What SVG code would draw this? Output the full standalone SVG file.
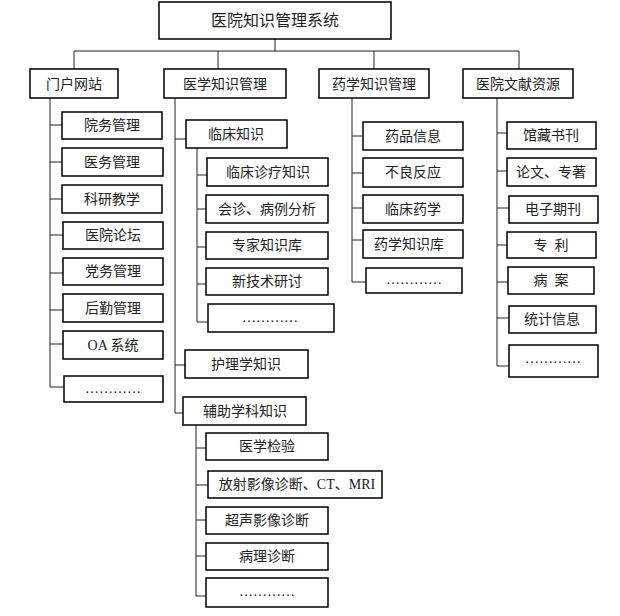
<svg xmlns="http://www.w3.org/2000/svg" width="620" height="616" viewBox="0 0 620 616">
<style>
.b{fill:#fff;stroke:#000;stroke-width:1.5}
.t{font-family:"Liberation Serif","Noto Sans CJK SC",serif;font-size:14px;fill:#222;text-anchor:middle}
.r{font-size:16px}
.c{fill:none;stroke:#222;stroke-width:1}
</style>
<rect width="620" height="616" fill="#fff"/>
<g id="connectors" class="c">
<path d="M275 39V51M74 51H519M74 51V69M218 51V69M374 51V69M519 51V69"/>
<path d="M50 98V387M50 125H62M50 162H62M50 199H62M50 235H63M50 273H63M50 310H63M50 344H63M50 387H64"/>
<path d="M175 98V413M175 139H186M175 365H185M175 413H183"/>
<path d="M197 148V322M197 175H207M197 209H206M197 247H206M197 284H206M197 322H208"/>
<path d="M196 425V596M196 448H206M196 485H208M196 520H206M196 556H206M196 596H206"/>
<path d="M352 98V282M352 136H363M352 173H363M352 208H363M352 240H363M352 282H366"/>
<path d="M497 98V366M497 133H507M497 171H507M497 208H509M497 245H507M497 282H508M497 318H509M497 366H509"/>
</g>
<g id="root"><rect class="b" x="159" y="2" width="232" height="37"/><text class="t r" x="275" y="26">医院知识管理系统</text></g>
<g id="portal"><rect class="b" x="30" y="69" width="88" height="29"/><text class="t" x="74" y="89">门户网站</text></g>
<g id="medical"><rect class="b" x="164" y="69" width="122" height="29"/><text class="t" x="225" y="89">医学知识管理</text></g>
<g id="pharma"><rect class="b" x="319" y="69" width="110" height="29"/><text class="t" x="374" y="89">药学知识管理</text></g>
<g id="literature"><rect class="b" x="463" y="69" width="110" height="29"/><text class="t" x="518" y="89">医院文献资源</text></g>

<g id="p1"><rect class="b" x="62" y="112" width="100" height="27"/><text class="t" x="112" y="130">院务管理</text></g>
<g id="p2"><rect class="b" x="62" y="148" width="101" height="28"/><text class="t" x="112" y="167">医务管理</text></g>
<g id="p3"><rect class="b" x="62" y="185" width="100" height="28"/><text class="t" x="112" y="204">科研教学</text></g>
<g id="p4"><rect class="b" x="63" y="222" width="100" height="27"/><text class="t" x="113" y="240">医院论坛</text></g>
<g id="p5"><rect class="b" x="63" y="258" width="100" height="27"/><text class="t" x="113" y="276">党务管理</text></g>
<g id="p6"><rect class="b" x="63" y="294" width="100" height="28"/><text class="t" x="113" y="313">后勤管理</text></g>
<g id="p7"><rect class="b" x="63" y="331" width="100" height="28"/><text class="t" x="113" y="350">OA 系统</text></g>
<g id="p8"><rect class="b" x="64" y="376" width="99" height="26"/><text class="t" x="113" y="393">…………</text></g>

<g id="m1"><rect class="b" x="186" y="120" width="101" height="28"/><text class="t" x="236" y="139">临床知识</text></g>
<g id="m11"><rect class="b" x="207" y="158" width="121" height="28"/><text class="t" x="268" y="177">临床诊疗知识</text></g>
<g id="m12"><rect class="b" x="206" y="195" width="122" height="28"/><text class="t" x="267" y="214">会诊、病例分析</text></g>
<g id="m13"><rect class="b" x="206" y="232" width="122" height="27"/><text class="t" x="267" y="250">专家知识库</text></g>
<g id="m14"><rect class="b" x="206" y="268" width="122" height="27"/><text class="t" x="267" y="286">新技术研讨</text></g>
<g id="m15"><rect class="b" x="208" y="304" width="126" height="28"/><text class="t" x="270" y="322">…………</text></g>
<g id="m2"><rect class="b" x="185" y="350" width="123" height="28"/><text class="t" x="246" y="369">护理学知识</text></g>
<g id="m3"><rect class="b" x="183" y="397" width="123" height="28"/><text class="t" x="245" y="416">辅助学科知识</text></g>
<g id="m31"><rect class="b" x="206" y="433" width="122" height="27"/><text class="t" x="267" y="451">医学检验</text></g>
<g id="m32"><rect class="b" x="208" y="471" width="174" height="27"/><text class="t" x="297" y="489">放射影像诊断、CT、MRI</text></g>
<g id="m33"><rect class="b" x="206" y="507" width="122" height="27"/><text class="t" x="267" y="525">超声影像诊断</text></g>
<g id="m34"><rect class="b" x="206" y="543" width="122" height="27"/><text class="t" x="267" y="561">病理诊断</text></g>
<g id="m35"><rect class="b" x="206" y="578" width="122" height="29"/><text class="t" x="267" y="596">…………</text></g>

<g id="d1"><rect class="b" x="363" y="122" width="100" height="28"/><text class="t" x="413" y="141">药品信息</text></g>
<g id="d2"><rect class="b" x="363" y="158" width="100" height="29"/><text class="t" x="413" y="177">不良反应</text></g>
<g id="d3"><rect class="b" x="363" y="195" width="100" height="28"/><text class="t" x="413" y="214">临床药学</text></g>
<g id="d4"><rect class="b" x="363" y="230" width="100" height="28"/><text class="t" x="409" y="249">药学知识库</text></g>
<g id="d5"><rect class="b" x="366" y="268" width="96" height="25"/><text class="t" x="414" y="284">…………</text></g>

<g id="l1"><rect class="b" x="507" y="122" width="89" height="27"/><text class="t" x="551" y="140">馆藏书刊</text></g>
<g id="l2"><rect class="b" x="507" y="158" width="89" height="28"/><text class="t" x="551" y="177">论文、专著</text></g>
<g id="l3"><rect class="b" x="509" y="196" width="89" height="27"/><text class="t" x="553" y="214">电子期刊</text></g>
<g id="l4"><rect class="b" x="507" y="232" width="89" height="26"/><text class="t" x="551" y="250" xml:space="preserve">专  利</text></g>
<g id="l5"><rect class="b" x="508" y="267" width="86" height="27"/><text class="t" x="551" y="285" xml:space="preserve">病  案</text></g>
<g id="l6"><rect class="b" x="509" y="306" width="87" height="27"/><text class="t" x="552" y="324">统计信息</text></g>
<g id="l7"><rect class="b" x="509" y="345" width="89" height="32"/><text class="t" x="553" y="363">…………</text></g>
</svg>
